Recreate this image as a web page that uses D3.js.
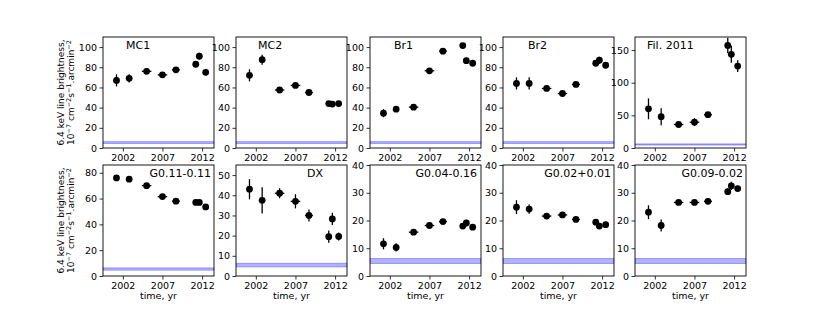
<!DOCTYPE html>
<html>

<head>
    <meta charset="UTF-8">
    <style>
        body {
            margin: 0;
            background: white;
        }

        svg text {
            font-family: "DejaVu Sans", sans-serif;
        }
    </style>
</head>

<body>
    <svg></svg>

    <script src="https://d3js.org/d3.v7.min.js"></script>

    <script>
        let width = 830, height = 311;

        // observation epochs (same for every region)
        let years = [2001.2, 2002.8, 2005.0, 2007.0, 2008.7, 2011.2, 2011.65, 2012.45];
        let yearErr = [0.25, 0.3, 0.6, 0.6, 0.5, 0.25, 0.25, 0.2];
        let xTicks = [2002, 2007, 2012];

        let regions = ["MC1", "MC2", "Br1", "Br2", "Fil. 2011",
            "G0.11-0.11", "DX", "G0.04-0.16", "G0.02+0.01", "G0.09-0.02"];

        let mc1 = [67, 69, 76, 72.5, 77.5, 83, 91, 75];
        let mc1Err = [6, 4, 2.5, 2, 2.5, 3, 3.5, 3];
        let mc2 = [72, 87.5, 57.5, 62, 55, 44, 43.5, 44];
        let mc2Err = [6, 5, 2, 2.5, 2, 1.5, 1.5, 1.5];
        let br1 = [34.5, 38.5, 40.5, 76.5, 96, 101.5, 86.5, 84];
        let br1Err = [4, 2.5, 2, 2, 2, 2, 3, 2];
        let br2 = [64, 64, 59, 54, 63, 84, 87, 82];
        let br2Err = [6, 6, 2.5, 2, 2, 2, 3.5, 2];
        let fil = [60, 48, 36, 39.5, 51, 157, 143.5, 125.5];
        let filErr = [16, 13, 3, 6, 4, 12, 13, 9];
        let g011 = [76, 75, 70, 61.5, 58, 57, 57, 53.5];
        let g011Err = [2, 2, 2, 1.5, 1.5, 1.5, 1.5, 1.5];
        let dx = [43, 37.5, 41, 37, 30, 19.5, 28.3, 19.6];
        let dxErr = [5, 6.5, 2.5, 3.5, 3, 3, 3, 2];
        let g004 = [11.6, 10.3, 15.8, 18.2, 19.6, 18, 19.1, 17.6];
        let g004Err = [2, 1.5, 0.7, 0.8, 0.8, 1, 1.2, 1];
        let g002 = [24.8, 24.1, 21.6, 22, 20.4, 19.4, 18, 18.5];
        let g002Err = [2.5, 1.7, 0.8, 0.8, 0.8, 1, 1, 0.8];
        let g009 = [23, 18.2, 26.5, 26.5, 26.9, 30.4, 32.5, 31.5];
        let g009Err = [2.5, 2.2, 0.8, 1, 1, 1.2, 1.5, 1];

        let values = [mc1, mc2, br1, br2, fil, g011, dx, g004, g002, g009];
        let errors = [mc1Err, mc2Err, br1Err, br2Err, filErr, g011Err, dxErr, g004Err, g002Err, g009Err];

        // y range and tick step per panel
        let yMax = [110, 110, 110, 110, 170, 86, 55, 40, 40, 40];
        let yStep = [20, 20, 20, 20, 50, 20, 10, 10, 10, 10];

        // background band (instrumental level)
        let bandLow = 4.5, bandHigh = 6.3;

        // title placement: offset from left edge and anchor
        let titlePos = [[23, "start"], [22, "start"], [24, "start"], [25, "start"], [12, "start"],
            [108, "end"], [71, "start"], [107, "end"], [108, "end"], [108, "end"]];

        let svg = d3.select("svg")
            .attr("width", width)
            .attr("height", height);

        let panelW = 111, panelH = 111;
        let lefts = [103, 236, 370, 503, 635];
        let tops = [37, 165];

        regions.forEach((name, i) => {
            let row = Math.floor(i / 5), col = i % 5;
            let g = svg.append("g")
                .attr("transform", "translate(" + lefts[col] + "," + tops[row] + ")");

            let x = d3.scaleLinear().domain([1999.5, 2013.5]).range([0, panelW]);
            let y = d3.scaleLinear().domain([0, yMax[i]]).range([panelH, 0]);

            g.append("defs").append("clipPath")
                .attr("id", "clip" + i)
                .append("rect")
                .attr("width", panelW)
                .attr("height", panelH);

            let plot = g.append("g").attr("clip-path", "url(#clip" + i + ")");

            plot.append("rect")
                .attr("x", 0)
                .attr("width", panelW)
                .attr("y", y(bandHigh))
                .attr("height", y(bandLow) - y(bandHigh))
                .attr("fill", "rgba(0,0,255,0.3)")
                .attr("stroke", "rgba(0,0,255,0.3)")
                .attr("stroke-width", 1);

            let pts = years.map((yr, k) => ({ yr: yr, xe: yearErr[k], v: values[i][k], e: errors[i][k] }));

            // y error bars
            plot.selectAll(".ye")
                .data(pts)
                .enter()
                .append("line")
                .attr("x1", d => x(d.yr))
                .attr("x2", d => x(d.yr))
                .attr("y1", d => y(d.v - d.e))
                .attr("y2", d => y(d.v + d.e))
                .attr("stroke", "black")
                .attr("stroke-width", 1.3);

            // x error bars
            plot.selectAll(".xe")
                .data(pts)
                .enter()
                .append("line")
                .attr("x1", d => x(d.yr - d.xe))
                .attr("x2", d => x(d.yr + d.xe))
                .attr("y1", d => y(d.v))
                .attr("y2", d => y(d.v))
                .attr("stroke", "black")
                .attr("stroke-width", 1.3);

            plot.selectAll("circle")
                .data(pts)
                .enter()
                .append("circle")
                .attr("cx", d => x(d.yr))
                .attr("cy", d => y(d.v))
                .attr("r", 3.4)
                .attr("fill", "black");

            // axes
            let xAxis = d3.axisBottom(x).tickValues(xTicks).tickFormat(d3.format("d")).tickSizeOuter(0).tickSize(3.5).tickPadding(2.5);
            let yAxis = d3.axisLeft(y).tickValues(d3.range(0, yMax[i] + 0.01, yStep[i])).tickSizeOuter(0).tickSize(3.5).tickPadding(2.5);

            let gx = g.append("g").attr("transform", "translate(0," + panelH + ")").call(xAxis);
            let gy = g.append("g").call(yAxis);
            [gx, gy].forEach(a => {
                a.select(".domain").remove();
                a.selectAll("text").attr("font-size", "9.5px").attr("font-family", "DejaVu Sans").attr("fill", "black");
                a.selectAll("line").attr("stroke-width", 0.8);
            });

            g.append("rect")
                .attr("width", panelW)
                .attr("height", panelH)
                .attr("fill", "none")
                .attr("stroke", "black")
                .attr("stroke-width", 0.9);

            g.append("text")
                .attr("x", titlePos[i][0])
                .attr("y", 12)
                .attr("text-anchor", titlePos[i][1])
                .attr("font-size", "11px")
                .text(name);

            if (row == 1) {
                g.append("text")
                    .attr("x", panelW / 2)
                    .attr("y", panelH + 23)
                    .attr("text-anchor", "middle")
                    .attr("font-size", "9.5px")
                    .text("time, yr");
            }

            if (col == 0) {
                let lab = svg.append("text")
                    .attr("transform", "translate(" + 64 + "," + (tops[row] + panelH / 2) + ") rotate(-90)")
                    .attr("text-anchor", "middle")
                    .attr("font-size", "9px");
                lab.append("tspan").attr("x", 0).attr("dy", 0).text("6.4 keV line brightness,");
                let l2 = svg.append("text")
                    .attr("transform", "translate(" + 74 + "," + (tops[row] + panelH / 2) + ") rotate(-90)")
                    .attr("text-anchor", "middle")
                    .attr("font-size", "9px");
                l2.append("tspan").text("10");
                l2.append("tspan").attr("dy", -3.5).attr("font-size", "6.5px").text("−7");
                l2.append("tspan").attr("dy", 3.5).text(" cm");
                l2.append("tspan").attr("dy", -3.5).attr("font-size", "6.5px").text("−2");
                l2.append("tspan").attr("dy", 3.5).text("s");
                l2.append("tspan").attr("dy", -3.5).attr("font-size", "6.5px").text("−1");
                l2.append("tspan").attr("dy", 3.5).text(".arcmin");
                l2.append("tspan").attr("dy", -3.5).attr("font-size", "6.5px").text("−2");
            }
        });
    </script>

</body>

</html>
